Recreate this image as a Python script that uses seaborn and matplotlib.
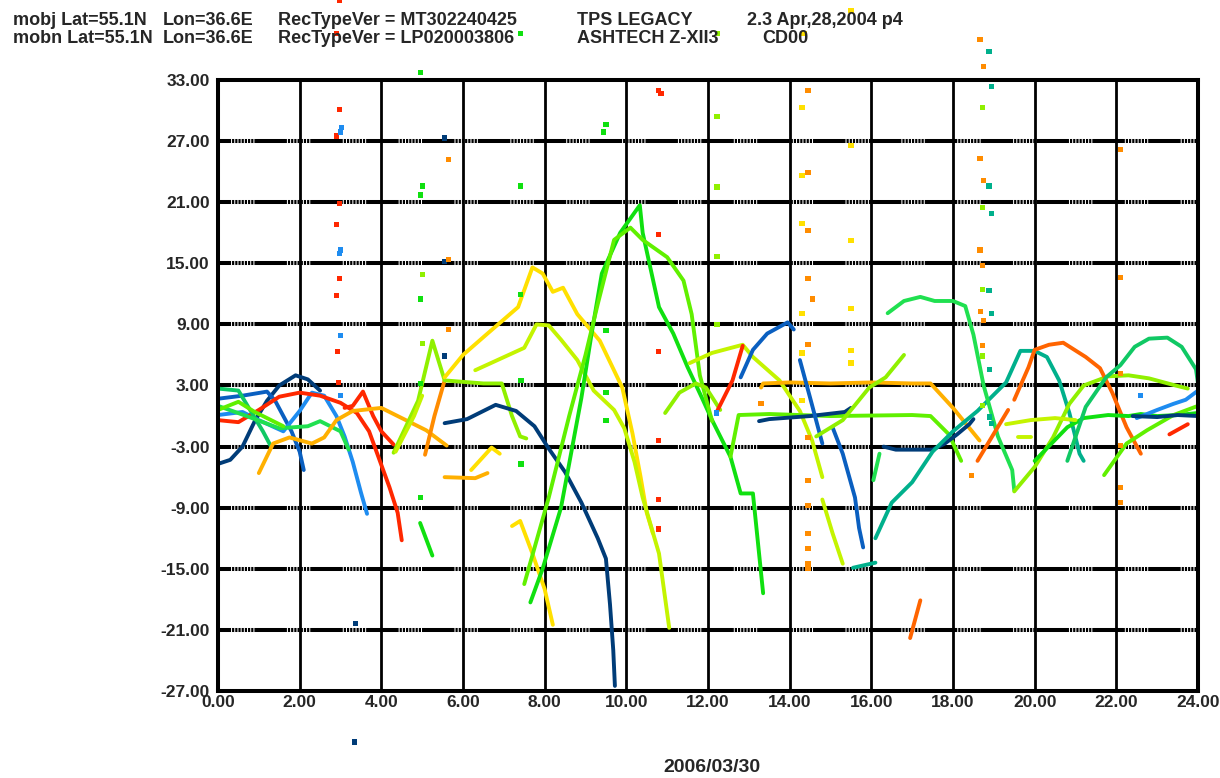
"""Satellite residual traces, 2006/03/30 (mobj / mobn baseline)."""

import matplotlib
matplotlib.use("Agg")
import pandas as pd
import matplotlib.pyplot as plt
import seaborn as sb

# ---- header text -------------------------------------------------------
header_1 = ["mobj Lat=55.1N", "Lon=36.6E", "RecTypeVer = MT302240425", "TPS LEGACY", "2.3 Apr,28,2004 p4"]
header_2 = ["mobn Lat=55.1N", "Lon=36.6E", "RecTypeVer = LP020003806", "ASHTECH Z-XII3", "CD00"]
date_label = "2006/03/30"

# ---- axis ticks --------------------------------------------------------
hour_ticks = [0, 2, 4, 6, 8, 10, 12, 14, 16, 18, 20, 22, 24]
value_ticks = [-27, -21, -15, -9, -3, 3, 9, 15, 21, 27, 33]

# ---- colours -----------------------------------------------------------
colors = {
    "navy": "#003c78", "blue": "#0a5fc0", "sky": "#1e8cf0", "teal": "#00b08c",
    "seagreen": "#10c864", "green": "#10e010", "green2": "#20e050", "lime": "#60f000",
    "lime2": "#90f000", "ygreen": "#c4f400", "yellow": "#ffe000", "amber": "#ffb000",
    "orange": "#ff8c00", "dorange": "#ff6400", "red": "#ff2800",
}

# ---- traces: (hour, value) ---------------------------------------------
navy_a = [(0, -4.7), (0.3, -4.3), (0.6, -3.0), (0.9, -0.5), (1.2, 1.5), (1.5, 3.0), (1.9, 4.0), (2.2, 3.6), (2.5, 2.5)]
blue_a = [(0, 1.7), (0.6, 2.0), (1.2, 2.4), (1.4, 1.5), (1.6, 0.0), (1.8, -1.5), (2.0, -3.5), (2.1, -5.3)]
sky_a = [(0, 0.1), (0.6, 0.4), (1.0, -0.4), (1.6, -1.5), (2.0, 0.5), (2.3, 2.3), (2.6, 2.0), (2.9, 0.0),
         (3.1, -2.0), (3.3, -4.5), (3.5, -7.5), (3.65, -9.6)]
red_a = [(0, -0.4), (0.5, -0.6), (1.0, 0.6), (1.5, 1.9), (2.0, 2.3), (2.5, 2.0), (3.0, 1.3), (3.4, 0.3),
         (3.7, -1.5), (3.9, -3.7), (4.2, -7.0), (4.4, -9.5), (4.5, -12.2)]
red_b = [(3.1, 0.8), (3.3, 1.0), (3.55, 2.4), (3.8, 0.0), (4.0, -1.5), (4.3, -2.8)]
seagreen_a = [(0, 2.7), (0.5, 2.5), (0.8, 0.5), (1.1, -1.5), (1.3, -3.0)]
green_b = [(0, 1.0), (0.7, 0.0), (1.5, -1.2), (2.2, -1.0), (2.5, -0.5), (3.0, -1.5), (3.2, -3.3)]
lime_g = [(0, 0.6), (0.5, 1.4), (0.9, 0.4), (1.3, -0.4), (1.6, -1.0)]
amber_a = [(1.0, -5.6), (1.35, -2.7), (1.75, -2.1), (2.3, -2.7), (2.6, -2.1), (2.9, -0.4), (3.3, 0.5),
           (4.0, 0.8), (4.6, -0.4), (5.1, -1.4), (5.6, -2.9)]
orange_a = [(5.07, -3.8), (5.3, 0.0), (5.55, 3.5)]
lime_a = [(4.3, -3.6), (4.9, 1.5), (5.25, 7.4), (5.55, 3.5), (6.5, 3.2), (6.95, 3.2), (7.2, 0.0),
          (7.4, -2.0), (7.55, -2.2)]
ygreen_a = [(4.35, -3.5), (4.8, 0.0), (5.0, 2.0)]
green_s = [(4.95, -10.5), (5.25, -13.7)]
yellow_a = [(5.55, 3.8), (6.0, 6.0), (6.6, 8.1), (7.35, 10.7), (7.7, 14.6), (7.95, 14.0), (8.2, 12.2),
            (8.45, 12.6), (8.8, 10.0), (9.35, 7.4), (9.9, 2.8), (10.15, -1.7), (10.35, -6.0), (10.5, -9.5),
            (10.65, -11.5)]
ygreen_b = [(6.3, 4.5), (7.5, 6.7), (7.8, 9.0), (8.1, 8.9), (8.4, 7.5), (8.8, 5.5), (9.2, 2.5), (9.7, 0.6),
            (9.95, -1.2), (10.2, -4.5), (10.4, -8.0), (10.8, -13.5), (11.05, -20.8)]
navy_b = [(5.55, -0.7), (6.1, -0.3), (6.8, 1.1), (7.3, 0.5), (7.75, -1.0), (8.1, -3.2), (8.5, -5.5),
          (8.9, -8.5), (9.3, -12.0), (9.5, -14.0), (9.6, -18.5), (9.68, -23.0), (9.72, -26.5)]
amber_b = [(5.55, -6.0), (6.3, -6.1), (6.6, -5.6)]
yellow_b = [(6.2, -5.3), (6.7, -3.1), (6.9, -3.7)]
yellow_c = [(7.2, -10.8), (7.4, -10.3), (7.7, -13.5), (8.0, -17.0), (8.2, -20.5)]
green_c = [(7.65, -18.3), (7.95, -15.0), (8.4, -9.0), (8.9, 1.8), (9.15, 8.1), (9.4, 14.0), (9.85, 18.0),
           (10.33, 20.7), (10.4, 18.0), (10.8, 10.7), (11.15, 8.1), (11.5, 4.8), (11.85, 1.8), (12.1, -0.4),
           (12.55, -4.0), (12.8, -7.6), (13.1, -7.6), (13.35, -17.4)]
lime_c = [(7.5, -16.5), (8.1, -8.0), (8.6, 0.0), (9.0, 6.0), (9.3, 11.0), (9.7, 17.3), (10.1, 18.5),
          (10.4, 17.3), (11.0, 15.6), (11.4, 13.3), (11.6, 10.0), (11.8, 4.0), (12.0, 1.0), (12.1, -0.5)]
lime_h = [(10.95, 0.3), (11.3, 2.3), (11.7, 3.2), (11.95, 2.8), (12.3, 0.6)]
ygreen_c = [(11.55, 5.2), (12.1, 6.2), (12.85, 7.0), (13.1, 5.8), (13.75, 3.5), (14.25, 0.5), (14.55, -2.4),
            (14.8, -6.0)]
ygreen_d = [(14.8, -8.2), (15.05, -11.5), (15.3, -14.5)]
red_c = [(12.2, 0.3), (12.6, 3.5), (12.85, 6.9)]
blue_b = [(12.8, 3.8), (13.1, 6.5), (13.45, 8.1), (13.95, 9.2), (14.1, 8.5)]
amber_c = [(13.3, 2.8), (13.35, 3.2), (14.0, 3.3), (15.0, 3.2), (16.0, 3.3), (17.0, 3.2), (17.45, 3.2),
           (18.0, 0.8), (18.65, -2.4)]
green_d = [(12.55, -4.0), (12.75, 0.1), (13.5, 0.2), (15.0, 0.0), (17.0, 0.1), (17.45, 0.0), (17.9, -1.8),
           (18.2, -4.4)]
navy_c = [(13.25, -0.5), (13.5, -0.3), (14.5, 0.0), (15.35, 0.4), (15.5, 0.8)]
navy_d = [(16.3, -3.0), (16.6, -3.3), (17.5, -3.3), (17.8, -2.7), (18.1, -1.8), (18.4, -0.8), (18.5, -0.3)]
blue_c = [(14.25, 5.5), (14.5, 1.8), (14.8, -2.7)]
blue_d = [(15.05, -1.1), (15.3, -3.7), (15.6, -8.0), (15.7, -11.0), (15.8, -12.9)]
lime_d = [(14.65, -2.0), (15.3, -0.4), (15.95, 2.8), (16.35, 3.8), (16.8, 6.0)]
green_e = [(16.05, -6.3), (16.2, -3.7)]
teal_a = [(16.1, -12.0), (16.5, -8.5), (17.0, -6.5), (17.5, -3.5), (18.0, -1.5), (18.6, 0.5), (19.3, 3.3),
          (19.65, 6.4), (20.0, 6.4), (20.3, 5.8), (20.6, 3.5), (20.85, 0.3), (21.1, -3.7), (21.2, -4.4)]
teal_b = [(15.55, -14.9), (16.1, -14.4)]
green_f = [(16.4, 10.1), (16.8, 11.3), (17.2, 11.7), (17.55, 11.3), (18.0, 11.3), (18.3, 10.8), (18.5, 8.0),
           (18.75, 3.0), (19.1, -2.0), (19.45, -5.3), (19.5, -7.3)]
lime_e = [(19.5, -7.4), (20.0, -5.0), (20.45, -2.1), (20.85, 1.2), (21.2, 3.0), (21.8, 3.9), (22.3, 4.0),
          (22.8, 3.7), (23.45, 3.0), (23.75, 2.7)]
dorange_a = [(18.6, -4.4), (19.35, 0.6)]
dorange_b = [(19.5, 1.6), (19.85, 4.8), (20.0, 6.5), (20.35, 7.0), (20.7, 7.2), (21.25, 5.8), (21.6, 4.7),
             (21.9, 2.3), (22.25, -1.1), (22.6, -3.7)]
dorange_c = [(16.95, -21.8), (17.2, -18.1)]
green_g = [(20.0, -4.4), (20.8, -1.1), (21.2, -0.2), (21.8, 0.1), (22.3, 0.0), (22.6, 0.2), (23.0, 0.0),
           (23.5, 0.1), (24.0, 0.3)]
seagreen_b = [(20.8, -4.4), (21.25, 0.9), (21.75, 3.8), (22.1, 5.0), (22.45, 6.8), (22.8, 7.6), (23.25, 7.7),
              (23.6, 6.8), (23.95, 4.6), (24.0, 3.2)]
lime_f = [(21.7, -5.8), (22.25, -2.7), (22.75, -1.4), (23.4, 0.1), (24.0, 1.0)]
sky_b = [(22.5, -0.2), (23.0, 0.6), (23.4, 1.2), (23.7, 1.6), (24.0, 2.5)]
navy_e = [(22.4, 0.0), (23.0, -0.1), (23.5, 0.1), (24.0, 0.0)]
red_d = [(23.3, -1.8), (23.75, -0.8)]
ygreen_e = [(19.3, -0.8), (19.9, -0.4), (20.5, -0.2), (21.0, -0.4)]
ygreen_f = [(19.6, -2.1), (19.9, -2.1)]

traces = {
    "navy_a": ("navy", navy_a), "blue_a": ("blue", blue_a), "sky_a": ("sky", sky_a),
    "red_a": ("red", red_a), "red_b": ("red", red_b), "seagreen_a": ("seagreen", seagreen_a),
    "green_b": ("green2", green_b), "lime_g": ("lime", lime_g), "amber_a": ("amber", amber_a),
    "orange_a": ("orange", orange_a), "lime_a": ("lime2", lime_a), "ygreen_a": ("ygreen", ygreen_a),
    "green_s": ("green", green_s), "yellow_a": ("yellow", yellow_a), "ygreen_b": ("ygreen", ygreen_b),
    "navy_b": ("navy", navy_b), "amber_b": ("amber", amber_b), "yellow_b": ("yellow", yellow_b),
    "yellow_c": ("yellow", yellow_c), "green_c": ("green", green_c), "lime_c": ("lime", lime_c),
    "lime_h": ("lime2", lime_h), "ygreen_c": ("ygreen", ygreen_c), "ygreen_d": ("ygreen", ygreen_d),
    "red_c": ("red", red_c), "blue_b": ("blue", blue_b), "amber_c": ("amber", amber_c),
    "green_d": ("lime", green_d), "navy_c": ("navy", navy_c), "navy_d": ("navy", navy_d),
    "blue_c": ("blue", blue_c), "blue_d": ("blue", blue_d), "lime_d": ("lime2", lime_d),
    "green_e": ("green2", green_e), "teal_a": ("teal", teal_a), "teal_b": ("teal", teal_b),
    "green_f": ("green2", green_f), "lime_e": ("lime2", lime_e), "dorange_a": ("dorange", dorange_a),
    "dorange_b": ("dorange", dorange_b), "dorange_c": ("dorange", dorange_c), "green_g": ("green", green_g),
    "seagreen_b": ("seagreen", seagreen_b), "lime_f": ("lime", lime_f), "sky_b": ("sky", sky_b),
    "navy_e": ("navy", navy_e), "red_d": ("red", red_d), "ygreen_e": ("ygreen", ygreen_e),
    "ygreen_f": ("ygreen", ygreen_f),
}

# ---- isolated samples (vertical streaks of dots) -----------------------
red_dots = [(2.98, 40.8), (2.9, 37.6), (2.98, 30.1), (2.9, 27.5), (2.98, 20.9), (2.9, 18.8), (2.98, 13.5),
            (2.9, 11.8), (2.92, 6.3), (2.95, 3.3), (10.78, 32.0), (10.85, 31.7), (10.78, 17.8),
            (10.78, 6.3), (10.78, -2.4), (10.78, -8.2), (10.78, -11.1)]
sky_dots = [(3.0, 27.9), (3.03, 28.3), (3.0, 16.3), (2.98, 16.0), (3.0, 7.9), (3.0, 2.0), (22.6, 2.0),
            (12.2, 0.3)]
navy_dots = [(3.36, -20.4), (3.34, -32.0), (5.55, 27.3), (5.55, 15.2), (5.55, 5.9)]
green_dots = [(4.95, 33.7), (5.0, 22.6), (4.95, 21.7), (4.95, 11.5), (4.95, 3.2), (4.95, -8.0),
              (7.4, 37.6), (7.4, 22.6), (7.4, 11.9), (7.42, 3.5), (7.42, -4.7),
              (9.45, 27.9), (9.5, 28.6), (9.5, 8.4), (9.5, 2.3), (9.5, -0.4)]
lime_dots = [(5.0, 13.9), (5.0, 7.1), (12.24, 37.6), (12.22, 29.4), (12.22, 22.5), (12.22, 15.7),
             (12.22, 9.0), (18.72, 30.3), (18.72, 20.5), (18.72, 12.4), (18.72, 5.9), (18.72, 1.0)]
orange_dots = [(5.65, 25.2), (5.65, 15.4), (5.65, 8.5), (14.45, 32.0), (14.45, 23.9), (14.45, 18.2),
               (14.45, 13.5), (14.55, 11.5), (14.45, 7.0), (13.3, 1.2), (14.45, -2.1), (14.45, -6.3),
               (14.45, -8.8), (14.45, -11.5), (14.45, -13.0), (14.45, -14.5), (14.45, -15.0),
               (18.66, 37.0), (18.75, 34.3), (18.66, 25.3), (18.75, 23.1), (18.66, 16.3), (18.72, 14.8),
               (18.68, 10.3), (18.75, 9.4), (18.72, 6.9), (18.45, -5.8),
               (22.1, 26.2), (22.1, 13.6), (22.1, 4.2), (22.1, -2.9), (22.1, -7.0), (22.1, -8.5)]
yellow_dots = [(14.35, 37.6), (14.3, 30.3), (14.3, 23.6), (14.3, 18.9), (14.3, 10.1), (14.3, 6.2),
               (14.3, 1.5), (15.5, 39.8), (15.5, 26.6), (15.5, 17.2), (15.5, 10.6), (15.5, 6.4), (15.5, 5.2)]
teal_dots = [(18.88, 35.8), (18.95, 32.4), (18.88, 22.6), (18.95, 19.9), (18.88, 12.3), (18.95, 10.1),
             (18.9, 4.6), (18.9, -0.1), (18.95, -0.7)]

dot_groups = {"red": red_dots, "sky": sky_dots, "navy": navy_dots, "green": green_dots, "lime2": lime_dots,
              "orange": orange_dots, "yellow": yellow_dots, "teal": teal_dots}


def main():
    sb.set_style("white")
    plt.rcParams["font.family"] = ["Liberation Sans", "DejaVu Sans"]
    plt.rcParams["lines.scale_dashes"] = False

    rows = []
    for name, (col, pts) in traces.items():
        for h, v in pts:
            rows.append({"hour": h, "value": v, "trace": name})
    df = pd.DataFrame(rows)
    trace_palette = {name: colors[col] for name, (col, _) in traces.items()}

    dot_rows = []
    for col, pts in dot_groups.items():
        for h, v in pts:
            dot_rows.append({"hour": h, "value": v, "color": col})
    dots = pd.DataFrame(dot_rows)

    fig = plt.figure(figsize=(12.2, 7.78), dpi=100)
    ax = fig.add_axes([218 / 1220, 1 - 691 / 778, 980 / 1220, 611 / 778])

    # grid: solid verticals, dash-dot style horizontals
    for h in hour_ticks[1:-1]:
        ax.axvline(h, color="black", lw=2.0, zorder=1)
    pattern = (14.0, [23.4, 0.72] + [1.58, 0.72] * 7)
    for v in value_ticks[1:-1]:
        ax.axhline(v, color="black", lw=2.9, linestyle=pattern, zorder=1)

    sb.lineplot(data=df, x="hour", y="value", hue="trace", palette=trace_palette, sort=False,
                estimator=None, legend=False, linewidth=2.8, ax=ax, zorder=3)
    sb.scatterplot(data=dots, x="hour", y="value", hue="color", palette=colors, marker="s", s=14,
                   linewidth=0, legend=False, ax=ax, clip_on=False, zorder=4)

    ax.set_xlim(0, 24)
    ax.set_ylim(-27, 33)
    ax.set_xticks(hour_ticks)
    ax.set_xticklabels([f"{h:.2f}" for h in hour_ticks])
    ax.set_yticks(value_ticks)
    ax.set_yticklabels([f"{v:.2f}" for v in value_ticks])
    ax.tick_params(length=0, labelsize=12.5)
    ax.tick_params(axis="x", pad=3)
    ax.tick_params(axis="y", pad=6)
    for lab in ax.get_xticklabels() + ax.get_yticklabels():
        lab.set_fontweight("bold")
    ax.set_xlabel("")
    ax.set_ylabel("")
    for sp in ax.spines.values():
        sp.set_visible(True)
        sp.set_color("black")
        sp.set_linewidth(2.9)
        sp.set_zorder(5)

    xs_1 = [13, 163, 278, 577, 747]
    xs_2 = [13, 163, 278, 577, 762]
    for x, t in zip(xs_1, header_1):
        fig.text(x / 1220, 1 - 25 / 778, t, fontsize=13, fontweight="bold", va="baseline", ha="left")
    for x, t in zip(xs_2, header_2):
        fig.text(x / 1220, 1 - 43 / 778, t, fontsize=13, fontweight="bold", va="baseline", ha="left")
    fig.text(712 / 1220, 1 - 768 / 778, date_label, fontsize=14, fontweight="bold", va="center", ha="center")

    fig.savefig("out.png", dpi=100)
    plt.close(fig)


if __name__ == "__main__":
    main()
